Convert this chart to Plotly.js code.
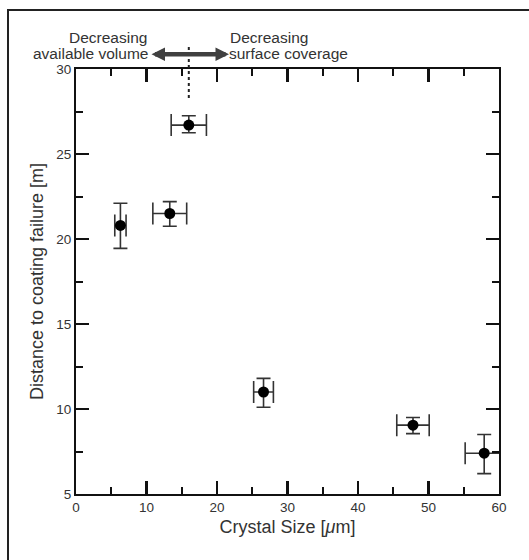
<!DOCTYPE html>
<html><head><meta charset="utf-8">
<script src="https://cdn.plot.ly/plotly-3.0.1.min.js"></script>
<style>
html,body{margin:0;padding:0;background:#fff;overflow:hidden;}
#frame{position:absolute;left:7px;top:9px;width:600px;height:600px;border:2px solid #222;box-sizing:border-box;}
#chart{position:absolute;left:0;top:0;width:529px;height:560px;}
</style></head>
<body>
<div id="frame"></div>
<div id="chart"></div>
<script>
const crystalSize = [6.3, 13.3, 16.0, 26.6, 47.8, 57.9];
const distance    = [20.8, 21.5, 26.7, 11.0, 9.05, 7.4];
const distErrPlus = [1.3, 0.7, 0.55, 0.8, 0.45, 1.1];
const distErrMinus= [1.35, 0.75, 0.45, 0.9, 0.5, 1.2];
const sizeErr     = [0.8, 2.4, 2.5, 1.4, 2.3, 2.7];
const xTicks = [0, 10, 20, 30, 40, 50, 60];
const yTicks = [5, 10, 15, 20, 25, 30];

const trace = {
  x: crystalSize, y: distance, type: 'scatter', mode: 'markers',
  marker: {color: '#000', size: 11},
  error_y: {type: 'data', symmetric: false, array: distErrPlus, arrayminus: distErrMinus,
            color: '#333', thickness: 1.6, width: 7},
  error_x: {type: 'data', array: sizeErr, color: '#333', thickness: 1.6, width: 11},
  cliponaxis: false, hoverinfo: 'none'
};

const FF = 'Liberation Sans, Arial, sans-serif';
const tickFont = {family: FF, size: 13.5, color: '#333'};
const titleFont = {family: FF, size: 18, color: '#333'};
const annFont = {family: FF, size: 15.5, color: '#333'};

const layout = {
  width: 529, height: 560,
  margin: {l: 76, r: 30, t: 69, b: 66},
  paper_bgcolor: 'rgba(0,0,0,0)', plot_bgcolor: 'rgba(0,0,0,0)',
  showlegend: false,
  xaxis: {
    range: [0, 60], tickmode: 'array', tickvals: xTicks, ticktext: xTicks.map(String),
    showgrid: false, zeroline: false, showline: true, linecolor: '#111', linewidth: 2,
    mirror: 'allticks', ticks: 'inside', ticklen: 13, tickwidth: 2.2, tickcolor: '#111',
    minor: {tickmode: 'linear', tick0: 0, dtick: 5, ticks: 'inside', ticklen: 7, tickwidth: 2, tickcolor: '#111', showgrid: false},
    tickfont: tickFont,
    title: {text: 'Crystal Size [<i>μ</i>m]', font: titleFont, standoff: 6}
  },
  yaxis: {
    range: [5, 30], tickmode: 'array', tickvals: yTicks, ticktext: yTicks.map(String),
    showgrid: false, zeroline: false, showline: true, linecolor: '#111', linewidth: 2,
    mirror: 'allticks', ticks: 'inside', ticklen: 13, tickwidth: 2.2, tickcolor: '#111',
    minor: {tickmode: 'linear', tick0: 0, dtick: 2.5, ticks: 'inside', ticklen: 7, tickwidth: 2, tickcolor: '#111', showgrid: false},
    tickfont: tickFont,
    title: {text: 'Distance to coating failure [m]', font: titleFont, standoff: 8}
  },
  shapes: [
    {type: 'line', xref: 'x', yref: 'paper', x0: 16.0, x1: 16.0, y0: 0.932, y1: 1.055,
     line: {color: '#222', width: 2, dash: 'dot'}}
  ],
  annotations: [
    {xref: 'x', yref: 'paper', axref: 'x', ayref: 'paper', x: 21.7, y: 1.035, ax: 10.5, ay: 1.035,
     text: '', showarrow: true, arrowside: 'end+start', arrowhead: 2, arrowsize: 0.6,
     arrowwidth: 4.5, arrowcolor: '#404040', standoff: 0, startstandoff: 0},
    {xref: 'paper', yref: 'paper', x: -0.0213, y: 1.074, xanchor: 'left', yanchor: 'middle',
     text: 'Decreasing', showarrow: false, font: annFont},
    {xref: 'paper', yref: 'paper', x: -0.106, y: 1.037, xanchor: 'left', yanchor: 'middle',
     text: 'available volume', showarrow: false, font: annFont},
    {xref: 'paper', yref: 'paper', x: 0.359, y: 1.074, xanchor: 'left', yanchor: 'middle',
     text: 'Decreasing', showarrow: false, font: annFont},
    {xref: 'paper', yref: 'paper', x: 0.357, y: 1.037, xanchor: 'left', yanchor: 'middle',
     text: 'surface coverage', showarrow: false, font: annFont}
  ]
};

Plotly.newPlot('chart', [trace], layout, {staticPlot: true, displayModeBar: false});
</script>
</body></html>
